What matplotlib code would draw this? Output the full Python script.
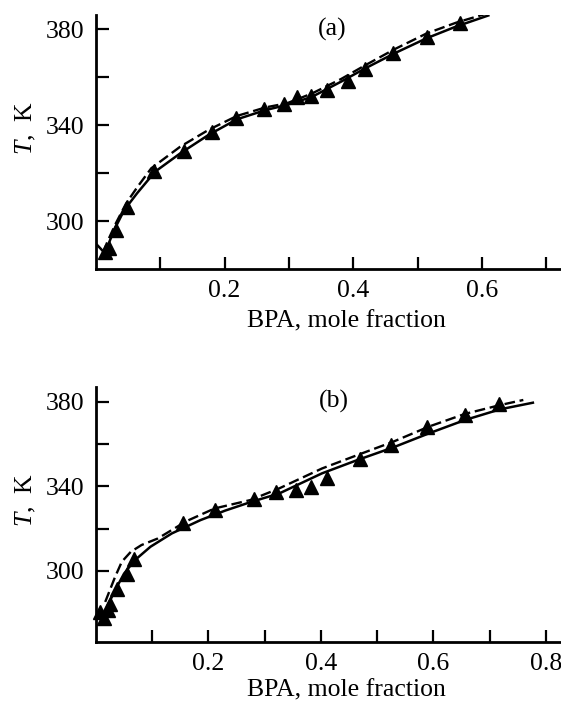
import numpy as np
import matplotlib
matplotlib.use("Agg")
import matplotlib.pyplot as plt
from matplotlib.ticker import FixedLocator

plt.rcParams["font.family"] = ["Liberation Serif", "DejaVu Serif"]
plt.rcParams["mathtext.fontset"] = "custom"
plt.rcParams["mathtext.rm"] = "Liberation Serif"
plt.rcParams["mathtext.it"] = "Liberation Serif:italic"

# ---- panel (a): measured points and the two model curves ----
a_pts_x = [0.014, 0.020, 0.031, 0.049, 0.091, 0.137, 0.181, 0.218, 0.262, 0.293,
           0.313, 0.335, 0.359, 0.392, 0.418, 0.462, 0.515, 0.566]
a_pts_T = [287.2, 288.8, 296.4, 306.1, 321.1, 329.4, 337.1, 342.9, 346.7, 348.9,
           351.9, 352.2, 354.7, 358.6, 363.3, 370.0, 376.7, 382.8]

a_solid_x = [0.002, 0.014, 0.022, 0.031, 0.044, 0.064, 0.092, 0.131, 0.175, 0.219,
             0.264, 0.297, 0.336, 0.381, 0.419, 0.464, 0.514, 0.560, 0.610]
a_solid_T = [290.1, 286.7, 292.2, 297.8, 304.7, 311.7, 320.7, 328.3, 336.0, 342.5,
             346.4, 348.5, 351.9, 358.2, 363.8, 370.0, 376.3, 381.2, 385.8]

a_dash_x = [0.011, 0.019, 0.031, 0.047, 0.065, 0.086, 0.131, 0.175, 0.219, 0.264,
            0.297, 0.336, 0.381, 0.419, 0.464, 0.514, 0.560, 0.605]
a_dash_T = [287.1, 292.2, 299.2, 307.5, 314.5, 322.1, 331.1, 338.1, 343.9, 347.5,
            349.2, 353.3, 359.3, 365.1, 371.7, 378.3, 382.8, 386.4]

# ---- panel (b) ----
b_pts_x = [0.008, 0.015, 0.021, 0.025, 0.038, 0.056, 0.067, 0.154, 0.211, 0.281,
           0.321, 0.356, 0.382, 0.411, 0.470, 0.524, 0.588, 0.656, 0.716]
b_pts_T = [280.6, 277.8, 281.7, 284.2, 291.6, 298.3, 305.8, 322.7, 329.0, 334.2,
           337.1, 338.2, 339.8, 343.7, 352.9, 359.3, 368.0, 373.5, 378.9]

b_solid_x = [0.015, 0.021, 0.034, 0.050, 0.069, 0.097, 0.135, 0.186, 0.230, 0.275,
             0.326, 0.402, 0.465, 0.529, 0.592, 0.656, 0.719, 0.777]
b_solid_T = [279.8, 283.7, 290.8, 298.7, 305.0, 311.4, 317.7, 324.0, 328.5, 332.5,
             336.6, 346.1, 352.4, 358.4, 365.0, 371.3, 376.4, 379.5]

b_dash_x = [0.0165, 0.034, 0.046, 0.062, 0.081, 0.110, 0.161, 0.211, 0.275, 0.326,
            0.402, 0.465, 0.529, 0.592, 0.656, 0.719, 0.760]
b_dash_T = [285.3, 297.1, 304.3, 309.0, 312.2, 315.3, 323.5, 329.5, 333.5, 339.0,
            348.4, 354.75, 361.1, 368.2, 374.2, 378.4, 380.8]

panels = [
    dict(label="(a)", px=a_pts_x, pT=a_pts_T, sx=a_solid_x, sT=a_solid_T,
         dx=a_dash_x, dT=a_dash_T, xlim=(0.0, 0.723), ylim=(280, 386),
         rect=[0.171, 0.6175, 0.829, 0.3612], tx=0.367, xlab_y=-0.16),
    dict(label="(b)", px=b_pts_x, pT=b_pts_T, sx=b_solid_x, sT=b_solid_T,
         dx=b_dash_x, dT=b_dash_T, xlim=(0.0, 0.827), ylim=(266.5, 386.8),
         rect=[0.171, 0.0885, 0.829, 0.3614], tx=0.423, xlab_y=-0.15),
]

fig = plt.figure(figsize=(5.61, 7.04), dpi=100)

for p in panels:
    ax = fig.add_axes(p["rect"])
    ax.plot(p["sx"], p["sT"], color="black", lw=1.8, solid_joinstyle="round")
    ax.plot(p["dx"], p["dT"], color="black", lw=1.7, dashes=(4.5, 2))
    ax.plot(p["px"], p["pT"], linestyle="none", marker="^", color="black",
            markersize=9.5, clip_on=False)

    ax.set_xlim(*p["xlim"])
    ax.set_ylim(*p["ylim"])
    for side in ["top", "right"]:
        ax.spines[side].set_visible(False)
    for side in ["left", "bottom"]:
        ax.spines[side].set_linewidth(2)

    ax.xaxis.set_major_locator(FixedLocator([0.2, 0.4, 0.6, 0.8]))
    ax.xaxis.set_minor_locator(FixedLocator([0.1, 0.3, 0.5, 0.7]))
    ax.yaxis.set_major_locator(FixedLocator([300, 340, 380]))
    ax.yaxis.set_minor_locator(FixedLocator([320, 360]))
    ax.set_xticklabels(["0.2", "0.4", "0.6", "0.8"])
    ax.tick_params(which="both", direction="in", length=9, width=1.6,
                   labelsize=18.5, pad=8)

    ax.text(p["tx"], 380, p["label"], ha="center", va="center", fontsize=18.5)
    ax.set_xlabel("BPA, mole fraction", fontsize=18.5)
    ax.set_ylabel(r"$T$,  K", fontsize=18.5)
    ax.xaxis.set_label_coords(0.539, p["xlab_y"])
    ax.yaxis.set_label_coords(-0.125, 0.556)

fig.savefig("out.png", dpi=100)
